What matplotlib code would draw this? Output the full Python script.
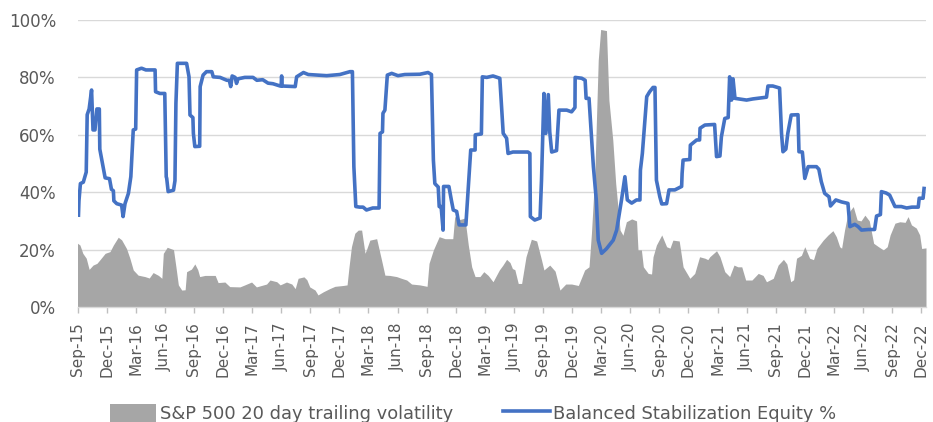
import matplotlib
matplotlib.use("Agg")
import matplotlib.pyplot as plt
from matplotlib.ticker import FuncFormatter, FixedLocator

# ---- data: months since Sep-2015 and values (%) ----
eq_months = [0.1, 0.15, 0.3, 0.6, 0.9, 0.95, 1.0, 1.2, 1.45, 1.6, 1.8, 2.0, 2.25, 2.3, 2.6, 2.85,
             3.3, 3.5, 3.7, 3.75, 4.05, 4.55, 4.7, 4.9, 5.25, 5.5, 5.75, 6.0, 6.1, 6.6, 7.05, 8.0,
             8.05, 8.5, 9.0, 9.15, 9.2, 9.35, 9.9, 10.05, 10.15, 10.3, 11.25, 11.5, 11.6, 11.9,
             11.95, 12.1, 12.6, 12.65, 12.95, 13.3, 13.85, 14.0, 14.7, 15.4, 15.65, 15.8, 15.95,
             16.25, 16.4, 16.55, 17.25, 18.1, 18.5, 19.1, 19.65, 20.15, 20.9, 21.0, 21.05, 21.1,
             22.45, 22.6, 23.3, 23.8, 25.7, 27.05, 28.1, 28.35, 28.5, 28.7, 29.1, 29.45, 29.8,
             30.45, 31.1, 31.2, 31.45, 31.5, 31.7, 31.95, 32.4, 33.05, 33.75, 35.3, 36.15, 36.5,
             36.7, 36.85, 37.2, 37.3, 37.5, 37.7, 37.75, 38.3, 38.55, 38.75, 39.1, 39.35, 40.05,
             40.55, 41.0, 41.02, 41.65, 41.75, 42.2, 42.85, 43.55, 43.9, 44.25, 44.4, 44.9, 46.45,
             46.65, 46.7, 47.15, 47.7, 47.85, 48.1, 48.3, 48.55, 48.7, 48.9, 49.4, 49.65, 50.45,
             50.95, 51.3, 51.32, 52.0, 52.35, 52.45, 52.75, 53.2, 53.5, 53.7, 54.05, 54.55, 55.25,
             55.6, 56.1, 56.45, 56.7, 57.15, 57.65, 58.0, 58.05, 58.25, 58.7, 59.0, 59.35, 59.55,
             59.7, 60.05, 60.25, 60.75, 61.0, 61.6, 62.3, 62.35, 62.45, 63.15, 63.2, 63.85, 64.15,
             64.2, 64.7, 65.7, 65.9, 66.25, 66.4, 66.75, 67.1, 67.25, 67.45, 67.6, 67.8, 69.0,
             69.65, 71.05, 71.2, 71.7, 72.4, 72.6, 72.75, 73.05, 73.25, 73.6, 74.3, 74.4, 74.75,
             75.0, 75.35, 76.2, 76.45, 76.7, 77.05, 77.5, 77.65, 78.2, 78.8, 79.45, 79.65, 80.15,
             80.5, 80.85, 81.55, 82.2, 82.4, 82.8, 82.9, 83.4, 83.75, 84.3, 84.95, 85.5, 86.05,
             86.7, 86.8, 87.2, 87.3]
eq_values = [32, 37, 43, 43.5, 47, 56, 67, 69, 75.6, 61.7, 61.7, 69, 69, 55, 49.5, 45,
             44.7, 41, 40.5, 37, 36, 35.5, 31.5, 36, 39.6, 45.4, 61.7, 62, 82.6, 83.2, 82.6, 82.6,
             75, 74.4, 74.4, 45.4, 44.8, 40.2, 40.7, 44, 71, 84.9, 84.9, 80.2, 66.9, 66,
             60.5, 55.9, 56, 76.8, 80.8, 82, 82, 80.2, 80, 79, 79, 76.8, 80.5,
             80, 77.9, 79.5, 80, 80, 79, 79.2, 78, 77.8, 77, 77, 80.5, 77,
             76.8, 80.2, 81.7, 81, 80.6, 81, 82, 82, 48.9, 35, 34.8, 34.8, 33.8,
             34.5, 34.5, 60.5, 61, 67.5, 68.6, 80.8, 81.4, 80.6, 81, 81.1, 81.7, 81,
             51.2, 43, 41.8, 35, 35, 26.8, 42, 42, 37.3, 33.8, 33.3, 28.6, 28.6,
             54.7, 54.7, 60, 60.3, 80.2, 80, 80.5, 79.7, 60.5, 58.8, 53.5, 54, 54,
             53.5, 31.5, 30.3, 31, 44.2, 74.4, 60.5, 74, 61, 54, 54.5, 68.6, 68.6,
             68, 69.5, 80, 79.7, 79, 72.7, 72.7, 48.9, 37.3, 23.3, 18.7, 20.3, 23.3,
             26.8, 37.3, 45.4, 37.3, 36.2, 37.3, 37.3, 47.7, 53.5, 73.3, 75, 76.5, 76.5,
             44.2, 38.4, 35.9, 36, 40.8, 40.8, 42, 46.6, 51.2, 51.4, 56.4, 58.2, 58.2,
             62.3, 63.4, 63.6, 52.4, 52.6, 59.3, 65.7, 66, 80.2, 72.1, 79.5, 72.7, 72.1,
             72.5, 73.1, 77, 77, 76.3, 60.5, 54.1, 55, 60.5, 66.9, 67, 54.1, 54,
             44.8, 48.9, 48.9, 48, 43.7, 39.6, 38.4, 35.2, 37.3, 36.6, 36.1, 28, 28.8,
             28, 26.8, 27, 27, 31.7, 32.2, 40.2, 39.7, 39, 35, 35, 34.5, 34.8,
             34.8, 37.9, 37.9, 41.3]

vol_months = [0, 0.25, 0.55, 0.9, 1.2, 1.6, 2.0, 2.3, 2.85, 3.35, 3.7, 4.2, 4.55, 5.05, 5.4, 5.75,
              6.25, 6.95, 7.4, 7.8, 8.35, 8.7, 8.85, 9.25, 9.9, 10.15, 10.4, 10.75, 11.1, 11.25,
              11.75, 12.1, 12.4, 12.6, 13.15, 14.2, 14.5, 15.2, 15.7, 16.75, 17.25, 17.95, 18.45,
              19.5, 19.85, 20.55, 20.9, 21.55, 22.1, 22.45, 22.75, 23.35, 23.65, 23.95, 24.5, 24.8,
              25.35, 26.0, 26.55, 27.4, 27.8, 28.0, 28.25, 28.6, 28.95, 29.3, 29.65, 29.8, 30.15,
              30.85, 31.35, 31.7, 32.2, 32.9, 33.4, 33.95, 34.45, 35.3, 36.05, 36.25, 36.7, 37.3,
              37.9, 38.7, 38.9, 39.45, 39.95, 40.3, 40.65, 41.0, 41.5, 41.9, 42.35, 42.85, 43.5,
              43.85, 44.25, 44.6, 44.85, 45.1, 45.45, 45.8, 46.25, 46.8, 47.35, 47.85, 48.1, 48.7,
              49.25, 49.75, 50.35, 50.95, 51.65, 52.3, 52.75, 53.0, 53.35, 53.7, 53.95, 54.55,
              54.8, 55.2, 55.5, 55.95, 56.25, 56.6, 57.15, 57.65, 57.8, 58.15, 58.35, 58.85, 59.2,
              59.35, 59.7, 60.25, 60.75, 61.1, 61.4, 62.05, 62.45, 63.15, 63.65, 64.15, 64.7, 65.0,
              65.2, 65.9, 66.25, 66.75, 67.25, 67.7, 68.1, 68.5, 68.9, 69.55, 70.2, 70.7, 71.05,
              71.75, 72.25, 72.8, 73.15, 73.55, 73.85, 74.15, 74.65, 75.0, 75.5, 75.9, 76.25, 76.9,
              77.4, 77.9, 78.25, 78.6, 78.8, 79.1, 79.45, 80.0, 80.4, 80.8, 81.2, 81.65, 82.1, 82.6,
              83.1, 83.5, 83.8, 84.3, 84.8, 85.35, 85.65, 86.0, 86.5, 86.85, 87.05, 87.5]
vol_values = [22.2, 21.6, 18.7, 17, 13.1, 14.6, 15.2, 16.4, 18.7, 19.3, 21.6, 24.3, 23.4, 20.4, 17, 12.9,
              11.1, 10.6, 10.1, 12, 11, 10, 18.7, 20.8, 20, 14, 7.7, 5.9, 6, 12.3,
              13.2, 15, 13, 10.6, 11, 11, 8.5, 8.7, 7.1, 7, 7.7, 8.7, 7,
              8, 9.4, 8.8, 7.7, 8.7, 8, 6.4, 10, 10.5, 9.5, 7, 5.9, 4.2,
              5.3, 6.4, 7.2, 7.5, 7.7, 14, 21, 25.7, 26.8, 26.8, 18.7, 20, 23.3,
              23.8, 16.4, 11.1, 11, 10.6, 10, 9.4, 8, 7.7, 7.2, 15.2, 19.9, 24.5,
              23.8, 23.8, 31.5, 30.5, 31, 21.6, 14, 10.6, 10.6, 12.3, 11, 8.8, 12.9,
              14.5, 16.6, 15.5, 13.4, 13, 8.2, 8.2, 17.5, 23.6, 23, 16.4, 12.9, 14.6,
              12.5, 5.9, 8, 8, 7.5, 12.9, 14, 25.7, 46.6, 86, 96.7, 96.3,
              72.1, 58.2, 43.1, 26.8, 25, 29.7, 30.7, 30, 19.9, 19.9, 14, 11.7, 11.5,
              17.5, 21.6, 25.1, 21, 20.5, 23.3, 23, 14, 10, 11.7, 17.5, 17, 16.5,
              17.5, 19.6, 17.5, 12.3, 10.6, 14.6, 14, 14, 9.4, 9.4, 11.7, 11, 8.8,
              10, 14.6, 16.6, 15, 8.8, 9.5, 17, 18, 21, 17, 16.5, 20.4, 23.3,
              25.1, 26.6, 24.5, 21, 20.5, 26.8, 32.6, 35, 30.3, 30, 32, 30, 22.2, 21,
              19.9, 21, 25.1, 29.2, 29.7, 29.5, 31.5, 28.6, 27.5, 25.1, 20.4, 20.6]

tick_labels = ["Sep-15", "Dec-15", "Mar-16", "Jun-16", "Sep-16", "Dec-16", "Mar-17", "Jun-17",
               "Sep-17", "Dec-17", "Mar-18", "Jun-18", "Sep-18", "Dec-18", "Mar-19", "Jun-19",
               "Sep-19", "Dec-19", "Mar-20", "Jun-20", "Sep-20", "Dec-20", "Mar-21", "Jun-21",
               "Sep-21", "Dec-21", "Mar-22", "Jun-22", "Sep-22", "Dec-22"]
tick_months = [3 * i for i in range(len(tick_labels))]

vol_label = "S&P 500 20 day trailing volatility"
eq_label = "Balanced Stabilization Equity %"

GRAY = "#A6A6A6"
BLUE = "#4472C4"
TXT = "#595959"
GRID = "#D9D9D9"

fig = plt.figure(figsize=(9.33, 4.22), dpi=100)
ax = fig.add_axes([77.5 / 933, 1 - 307 / 422, (926 - 77.5) / 933, (307 - 20) / 422])

ax.fill_between(vol_months, [v / 100 for v in vol_values], 0, color=GRAY, linewidth=0,
                zorder=2, label=vol_label)
ax.plot(eq_months, [v / 100 for v in eq_values], color=BLUE, linewidth=2.6,
        solid_joinstyle="round", zorder=3, label=eq_label)

ax.set_xlim(0, 87.5)
ax.set_ylim(0, 1.0)
ax.set_yticks([0, 0.2, 0.4, 0.6, 0.8, 1.0])
ax.yaxis.set_major_formatter(FuncFormatter(lambda v, p: f"{v*100:.0f}%"))
ax.grid(axis="y", color=GRID, linewidth=1.0, zorder=0)
ax.set_axisbelow(True)
for s in ["top", "right", "left"]:
    ax.spines[s].set_visible(False)
ax.spines["bottom"].set_color(GRID)
ax.spines["bottom"].set_linewidth(1.0)
ax.spines["bottom"].set_zorder(4)

ax.xaxis.set_major_locator(FixedLocator(tick_months))
ax.set_xticklabels(tick_labels, rotation=90, fontsize=11, color=TXT,
                   family=["DejaVu Sans"])
ax.tick_params(axis="x", length=4, color="#BFBFBF", width=1, pad=7)
ax.tick_params(axis="y", length=0, labelsize=12, labelcolor=TXT, pad=15.5)

leg = fig.legend(loc="center", bbox_to_anchor=(0.507, 0.021), ncol=2, frameon=False,
                 prop={"family": ["DejaVu Sans"], "size": 12.9},
                 handlelength=2.6, handleheight=1.2, handletextpad=0.2, columnspacing=2.8,
                 labelcolor=TXT)
fig.savefig("out.png", dpi=100)
